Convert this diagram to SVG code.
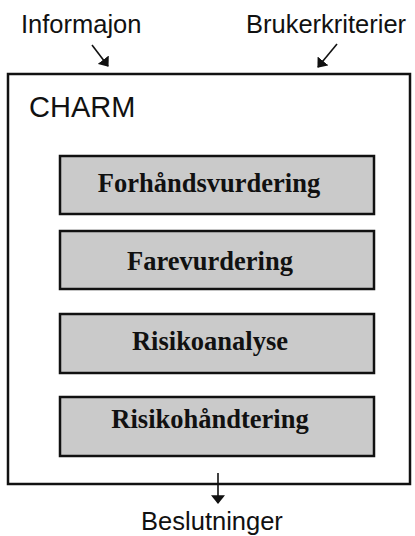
<svg xmlns="http://www.w3.org/2000/svg" width="415" height="536" viewBox="0 0 415 536">
<style>
.lbl{font-family:"Liberation Sans",Arial,sans-serif;font-size:25.5px;fill:#111}
.step rect{fill:#cacaca;stroke:#111;stroke-width:2.5}
.step text{font-family:"Liberation Serif","Times New Roman",serif;font-weight:bold;font-size:26.5px;fill:#111;text-anchor:middle}
.conn{stroke:#111;stroke-width:1.6;fill:none}
</style>
<defs>
<marker id="ah" viewBox="0 0 10 16" refX="9" refY="8" markerWidth="9" markerHeight="14" markerUnits="userSpaceOnUse" orient="auto">
<path d="M0,0 L10,8 L0,16 z" fill="#111"/>
</marker>
</defs>
<rect width="415" height="536" fill="#fff"/>
<text class="lbl" x="21" y="33">Informajon</text>
<text class="lbl" x="246" y="33">Brukerkriterier</text>
<g id="charm">
<rect x="8" y="74" width="402" height="410" fill="none" stroke="#111" stroke-width="2.5"/>
<text x="29" y="117" style="font-family:'Liberation Sans',Arial,sans-serif;font-size:29px;fill:#111">CHARM</text>
</g>
<g id="forhandsvurdering" class="step">
<rect x="60" y="156" width="314" height="58"/>
<text x="209" y="192">Forhåndsvurdering</text>
</g>
<g id="farevurdering" class="step">
<rect x="60" y="231" width="314" height="58"/>
<text x="210" y="270">Farevurdering</text>
</g>
<g id="risikoanalyse" class="step">
<rect x="60" y="314" width="314" height="59"/>
<text x="210" y="350">Risikoanalyse</text>
</g>
<g id="risikohandtering" class="step">
<rect x="60" y="397" width="314" height="59"/>
<text x="210" y="428">Risikohåndtering</text>
</g>
<g id="connectors">
<line class="conn" x1="92" y1="45" x2="108" y2="66" marker-end="url(#ah)"/>
<line class="conn" x1="337" y1="44" x2="318" y2="67" marker-end="url(#ah)"/>
<line class="conn" x1="218" y1="473" x2="218" y2="503" marker-end="url(#ah)"/>
</g>
<text class="lbl" x="212" y="530" text-anchor="middle">Beslutninger</text>
</svg>
